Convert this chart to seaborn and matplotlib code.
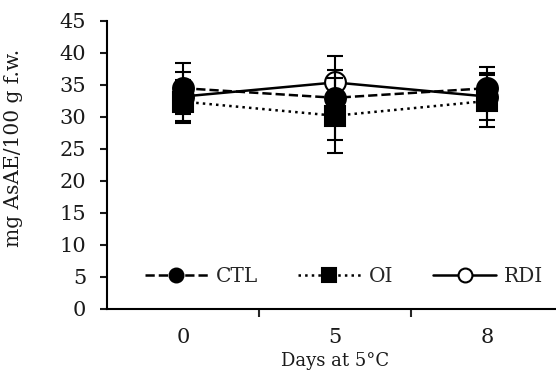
import numpy as np
import pandas as pd
import matplotlib
matplotlib.use('Agg')
import matplotlib.pyplot as plt
from matplotlib.lines import Line2D
import seaborn as sns

# ── Data ──────────────────────────────────────────────────────────────────────
days = ['0', '5', '8']
ctl = [34.5, 33.0, 34.5]
ctl_err = [4.0, 6.6, 3.3]
oi = [32.4, 30.2, 32.5]
oi_err = [3.4, 5.9, 4.0]
rdi = [33.2, 35.4, 33.2]
rdi_err = [3.8, 1.9, 3.7]

sns.set_theme(style='ticks')
plt.rcParams['font.family'] = ['DejaVu Serif']
plt.rcParams['axes.linewidth'] = 1.5
TXT = '#1a1a1a'

fig = plt.figure(figsize=(5.56, 3.76), dpi=100)
ax = fig.add_axes([107 / 556, 1 - 309 / 376, 456 / 556, 288 / 376])

# (name, values, errors, linestyle, marker, facecolor, zorder)
series = [
    ('CTL', ctl, ctl_err, '--', 'o', 'black', 3),
    ('OI', oi, oi_err, ':', 's', 'black', 3),
    ('RDI', rdi, rdi_err, '-', 'o', 'white', 2),
]
pos = np.arange(len(days))
handles = []
for name, vals, errs, ls, mk, fc, z in series:
    df = pd.DataFrame({'day': pos, 'value': vals})
    sns.lineplot(data=df, x='day', y='value', ax=ax, color='black', linestyle=ls,
                 linewidth=1.8, marker=mk, markersize=15, markerfacecolor=fc,
                 markeredgecolor='black', markeredgewidth=1.5, zorder=z)
    ax.errorbar(pos, vals, yerr=errs, fmt='none', ecolor='black', elinewidth=1.5,
                capsize=6, capthick=1.5, zorder=4)
    handles.append(Line2D([], [], color='black', linestyle=ls, linewidth=1.8, marker=mk,
                          markersize=10, markerfacecolor=fc, markeredgecolor='black',
                          markeredgewidth=1.5, label=name))

ax.set_xlim(-0.5, 2.5)
ax.set_ylim(0, 45)
ax.set_yticks(np.arange(0, 46, 5))
ax.set_xticks(pos)
ax.set_xticklabels(days)
ax.set_xticks([0.5, 1.5, 2.5], minor=True)
ax.tick_params(axis='x', which='major', length=0, pad=14, labelsize=15, colors=TXT)
ax.tick_params(axis='x', which='minor', length=6, width=1.5, direction='out')
ax.tick_params(axis='y', length=5, width=1.5, direction='out', pad=10, labelsize=15,
               colors=TXT)
for s in ['top', 'right']:
    ax.spines[s].set_visible(False)
ax.spines['left'].set_color('black')
ax.spines['bottom'].set_color('black')

ax.set_xlabel('Days at 5°C', fontsize=13, labelpad=3, color=TXT)
ax.set_ylabel('mg AsAE/100 g f.w.', fontsize=14.5, color=TXT)
ax.yaxis.set_label_coords(-0.185, 0.56)

ax.legend(handles=handles, loc='center', bbox_to_anchor=(0.52, 5 / 45), ncol=3,
          frameon=False, handlelength=3.1, columnspacing=2.0, handletextpad=0.4,
          fontsize=14.5)

fig.savefig('out.png', dpi=100)
